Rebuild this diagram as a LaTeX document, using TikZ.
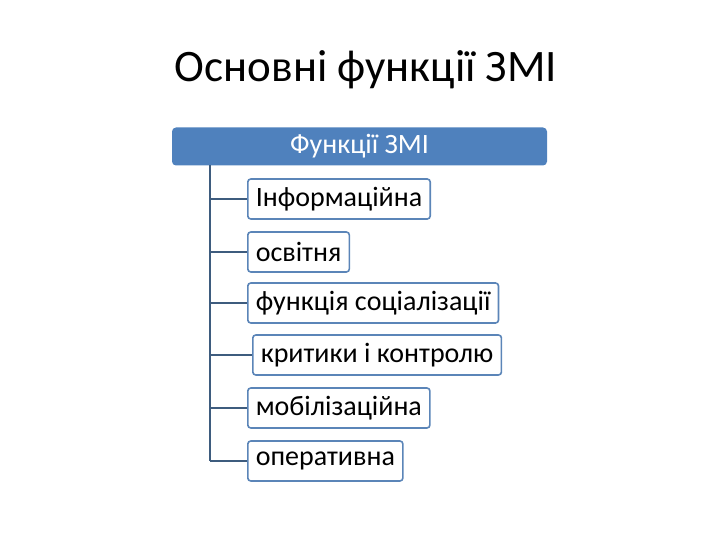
\documentclass[tikz,border=0pt]{standalone}
\usepackage{fontspec}
\setmainfont{Carlito}
\definecolor{hdrblue}{HTML}{4F81BD}
\definecolor{boxline}{HTML}{5B85B8}
\definecolor{conn}{HTML}{3E5C7E}
\begin{document}
\begin{tikzpicture}[x=1pt,y=-1pt,
  item/.style={draw=boxline, line width=1.6pt, rounded corners=3pt, fill=white,
    anchor=west, inner xsep=8pt, inner ysep=0pt, minimum height=40pt, font=\fontsize{28}{32}\selectfont, text=black},
  link/.style={draw=conn, line width=1.4pt}]
\useasboundingbox (0,0) rectangle (720,540);
\node (title) at (366,70) {\fontsize{45}{50}\selectfont Основні функції ЗМІ};
\node[fill=hdrblue, rounded corners=4pt, minimum width=375pt, minimum height=38pt, inner ysep=0pt,
  text=white, font=\fontsize{28}{32}\selectfont] (hdr) at (359.5,146.5) {Функції ЗМІ};
\coordinate (top) at (210,165);
\coordinate (bot) at (210,461);
\node[item] (b1) at (247,199) {Інформаційна};
\node[item] (b2) at (247,252) {освітня};
\node[item] (b3) at (247,303) {функція соціалізації};
\node[item] (b4) at (252,355) {критики і контролю};
\node[item] (b5) at (247,408) {мобілізаційна};
\node[item] (b6) at (247,461) {оперативна};
\draw[link] (top) -- (bot);
\foreach \b in {b1,b2,b3,b4,b5,b6}{
  \draw[link] (\b.west -| top) -- (\b.west);
}
\end{tikzpicture}
\end{document}
